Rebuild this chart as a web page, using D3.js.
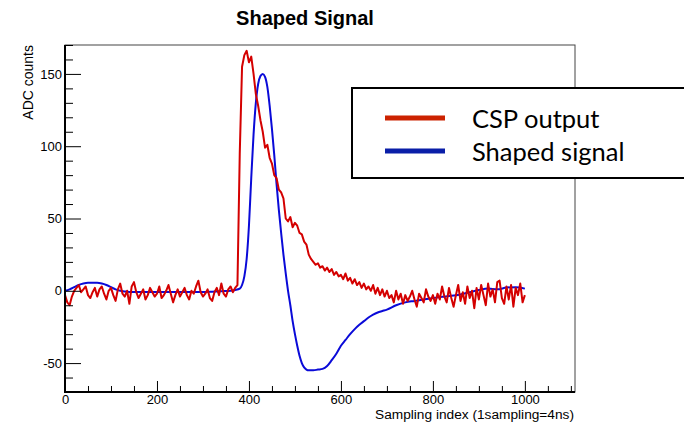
<!DOCTYPE html>
<html>
<head>
<meta charset="utf-8">
<script src="https://cdn.jsdelivr.net/npm/d3@7"></script>
<style>
  body { margin: 0; background: #fff; }
  svg { display: block; }
  text { font-family: "Liberation Sans", Arial, Helvetica, sans-serif; }
</style>
</head>
<body>
<div id="chart"></div>
<script>
// data
const xMajor = [0, 200, 400, 600, 800, 1000];
const xMinor = [50, 100, 150, 250, 300, 350, 450, 500, 550, 650, 700, 750, 850, 900, 950, 1050, 1100];
const yMajor = [-50, 0, 50, 100, 150];
const yMinor = [-70, -60, -40, -30, -20, -10, 10, 20, 30, 40, 60, 70, 80, 90, 110, 120, 130, 140, 160, 170];

// CSP output, one value every 5 samples from 0 to 1000
const cspStep = 5;
const cspValues = [
  -3, -8, -10, -4, 0, 2, 4, -1, 1, 3,
  -3, -5, -1, 2, -4, 1, 3, -2, -6, 0,
  2, -3, -7, 1, 5, -2, -4, 0, -9, 3,
  6, -1, -5, -2, 1, -6, -3, 2, -1, -4,
  -2, 3, -5, -3, 0, 4, -2, -8, -3, 1,
  -4, -1, 2, -3, -6, 0, -2, 3, 7, -1,
  -4, -2, 1, -5, -7, -1, 2, -3, 5, -2,
  -4, 1, 3, -1, 2, 4, 95, 155, 163, 166,
  158, 162, 150, 136, 128, 118, 110, 99, 101, 92,
  88, 80, 78, 70, 68, 64, 50, 48, 51, 44,
  47, 45, 40, 39, 34, 32, 25, 22, 20, 18,
  19, 16, 17, 14, 16, 13, 15, 11, 13, 10,
  11, 8, 12, 7, 9, 5, 8, 4, 6, 2,
  5, 1, 3, 0, 4, -2, 2, -3, 1, -4,
  0, -5, -3, -8, 0, -6, -2, -9, -3, -7,
  -4, 0, -6, -11, -2, -5, -8, 1, -4, -7,
  -3, -9, -2, -6, 3, -4, -8, 2, -5, -11,
  -3, 4, -7, -1, -9, 3, -5, 0, -12, 2,
  -6, 4, -3, -10, 5, -4, 1, -8, 6, 7,
  -5, -9, 3, -6, 4, -11, 2, -3, 5, -8,
  -3
];

// shaped signal, smooth curve
const shapedX = [0, 10, 20, 30, 40, 50, 60, 70, 80, 90, 100, 110, 120, 130, 140, 200, 260, 300, 320, 340, 360, 370,
  380, 385, 390, 395, 400, 405, 410, 415, 420, 425, 430, 435, 440, 445, 450, 455, 460, 465, 470, 475, 480, 485, 490,
  495, 500, 505, 510, 515, 520, 525, 530, 540, 550, 560, 570, 580, 590, 600, 610, 620, 630, 640, 650, 660, 670, 680,
  690, 700, 720, 740, 760, 780, 800, 820, 840, 860, 880, 900, 920, 940, 960, 980, 1000];
const shapedY = [0, 1, 2.5, 4, 5, 5.5, 5.5, 5.5, 5, 4, 2.5, 1, 0, -0.5, -0.8, -0.8, -0.8, -0.8, -0.6, -0.3, 0, 0.5,
  1.5, 4, 10, 22, 45, 78, 108, 130, 143, 148.5, 150, 148, 141, 128, 112, 94, 74, 56, 40, 25, 12, 0, -10,
  -21, -30, -38, -45, -50, -53, -54.5, -55, -55, -54.5, -54, -52, -48, -43.5, -38, -34, -30, -26.5, -23.5, -21, -18.5, -16.5, -15,
  -14, -13, -10, -8, -7, -6, -5, -4.2, -3.5, -2.5, -1, 0.5, 1.5, 1, 2.2, 2.5, 1.5];

const seriesNames = ["CSP output", "Shaped signal"];
const seriesColors = ["#d40000", "#0a0ad8"];
const legendColors = ["#cc2200", "#0a1ea8"];

const W = 684, H = 424;
const frame = { left: 65, right: 575, top: 45, bottom: 392 };

const svg = d3.select("#chart").append("svg").attr("width", W).attr("height", H);

const x = d3.scaleLinear().domain([0, 1109]).range([frame.left, frame.right]);
const y = d3.scaleLinear().domain([-70, 170]).range([frame.bottom, frame.top]);

// frame
svg.append("rect")
  .attr("x", frame.left).attr("y", frame.top)
  .attr("width", frame.right - frame.left).attr("height", frame.bottom - frame.top)
  .attr("fill", "#fff").attr("stroke", "#444").attr("stroke-width", 1);

// curves
const cspData = cspValues.map((v, i) => [i * cspStep, v]);
const shapedData = shapedX.map((v, i) => [v, shapedY[i]]);

const line = d3.line().x(d => x(d[0])).y(d => y(d[1]));
const smooth = d3.line().x(d => x(d[0])).y(d => y(d[1])).curve(d3.curveMonotoneX);

svg.append("path").datum(shapedData)
  .attr("d", smooth).attr("fill", "none")
  .attr("stroke", seriesColors[1]).attr("stroke-width", 2);

svg.append("path").datum(cspData)
  .attr("d", line).attr("fill", "none")
  .attr("stroke", seriesColors[0]).attr("stroke-width", 2)
  .attr("stroke-linejoin", "round");

// axes, ticks drawn inward
function styleAxis(g) {
  g.select(".domain").remove();
  g.selectAll("line").attr("stroke", "#000").attr("stroke-width", 1);
  g.selectAll("text").attr("fill", "#000").style("font-size", "13px")
    .style("font-family", '"Liberation Sans", Arial, sans-serif');
}
const plain = d => String(d);

svg.append("g").attr("transform", `translate(${frame.left},0)`)
  .call(d3.axisLeft(y).tickValues(yMajor).tickSize(-16).tickPadding(3).tickFormat(plain))
  .call(styleAxis);
svg.append("g").attr("transform", `translate(${frame.left},0)`)
  .call(d3.axisLeft(y).tickValues(yMinor).tickSize(-8).tickFormat(""))
  .call(styleAxis);

svg.append("g").attr("transform", `translate(0,${frame.bottom})`)
  .call(d3.axisBottom(x).tickValues(xMajor).tickSize(-11).tickPadding(3).tickFormat(plain))
  .call(styleAxis);
svg.append("g").attr("transform", `translate(0,${frame.bottom})`)
  .call(d3.axisBottom(x).tickValues(xMinor).tickSize(-6).tickFormat(""))
  .call(styleAxis);

svg.append("line")
  .attr("x1", frame.left).attr("x2", frame.left)
  .attr("y1", frame.top).attr("y2", frame.bottom)
  .attr("stroke", "#000").attr("stroke-width", 2);
svg.append("line")
  .attr("x1", frame.left - 1).attr("x2", frame.right)
  .attr("y1", frame.bottom).attr("y2", frame.bottom)
  .attr("stroke", "#000").attr("stroke-width", 2);

// titles
svg.append("text").attr("x", 305).attr("y", 25)
  .attr("text-anchor", "middle").style("font-weight", "bold").style("font-size", "20px")
  .text("Shaped Signal");

svg.append("text")
  .attr("transform", `translate(33,${frame.top}) rotate(-90)`)
  .attr("text-anchor", "end").style("font-size", "14px")
  .text("ADC counts");

svg.append("text").attr("x", frame.right - 1).attr("y", 419)
  .attr("text-anchor", "end").style("font-size", "13.7px")
  .text("Sampling index (1sampling=4ns)");

// legend box, overlapping the frame
const legend = svg.append("g");
legend.append("rect")
  .attr("x", 352).attr("y", 88).attr("width", 360).attr("height", 90)
  .attr("fill", "#fff").attr("stroke", "#000").attr("stroke-width", 2);

seriesNames.forEach(function (name, i) {
  const ly = 118 + i * 33;
  legend.append("line")
    .attr("x1", 385).attr("x2", 445).attr("y1", ly).attr("y2", ly)
    .attr("stroke", legendColors[i]).attr("stroke-width", 5);
  legend.append("text")
    .attr("x", 472).attr("y", ly + 10)
    .style("font-family", "Lato, 'Open Sans', sans-serif").style("font-size", "25.5px")
    .text(name);
});
</script>
</body>
</html>
